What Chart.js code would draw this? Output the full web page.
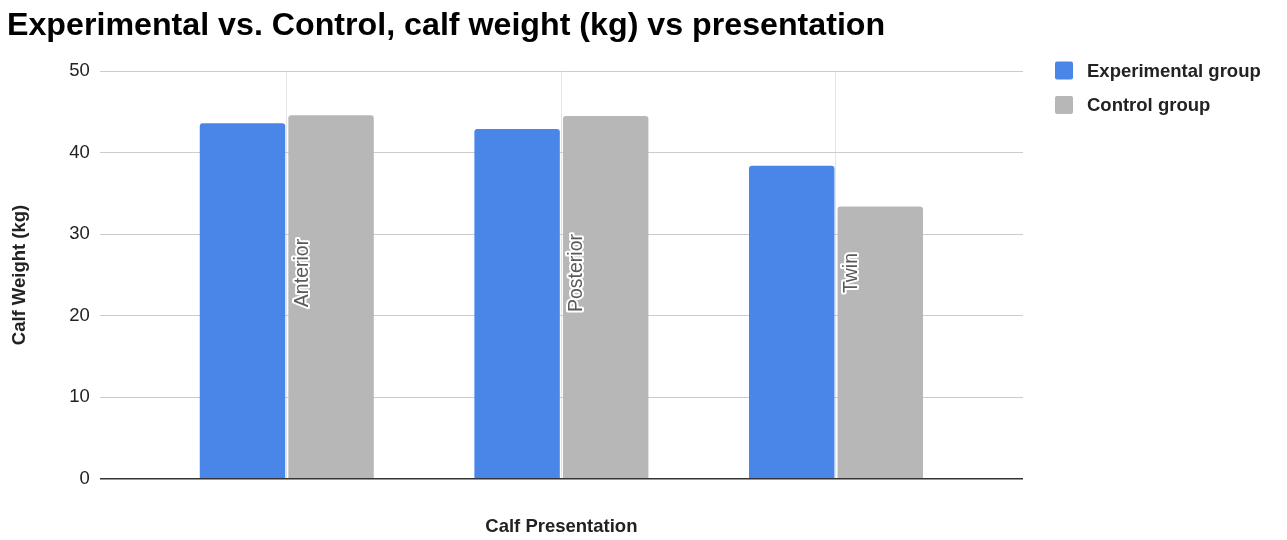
<!DOCTYPE html>
<html>
<head>
<meta charset="utf-8">
<script src="https://cdn.jsdelivr.net/npm/chart.js@4.4.0/dist/chart.umd.min.js"></script>
<style>
html,body{margin:0;padding:0;background:#fff;}
#wrap{width:1287px;height:540px;position:relative;}
</style>
</head>
<body>
<div id="wrap"><canvas id="c"></canvas></div>
<script>
const categories = ['Anterior', 'Posterior', 'Twin'];
const seriesNames = ['Experimental group', 'Control group'];
const experimental = [43.6, 42.9, 38.4];
const control = [44.6, 44.5, 33.4];
const yTickValues = [0, 10, 20, 30, 40, 50];
const chartTitle = 'Experimental vs. Control, calf weight (kg) vs presentation';
const xAxisTitle = 'Calf Presentation';
const yAxisTitle = 'Calf Weight (kg)';

const FONT = '"Liberation Sans", Arial, Helvetica, sans-serif';
Chart.defaults.font.family = FONT;
Chart.defaults.color = '#222';

const catLabelPlugin = {
  id: 'catLabels',
  afterDatasetsDraw(chart) {
    const {ctx, chartArea, scales} = chart;
    const x = scales.x;
    ctx.save();
    ctx.font = '19.5px ' + FONT;
    ctx.textAlign = 'center';
    ctx.textBaseline = 'middle';
    ctx.lineJoin = 'round';
    categories.forEach((c, i) => {
      const px = x.getPixelForValue(i) + 15.5;
      const py = (chartArea.top + chartArea.bottom) / 2 - 2;
      ctx.save();
      ctx.translate(px, py);
      ctx.rotate(-Math.PI / 2);
      ctx.lineWidth = 4;
      ctx.strokeStyle = '#ffffff';
      ctx.strokeText(c, 0, 0);
      ctx.fillStyle = '#5a5a5a';
      ctx.fillText(c, 0, 0);
      ctx.restore();
    });
    ctx.restore();
  }
};

// legend drawn from the chart's own datasets (labels + colours)
const sideLegendPlugin = {
  id: 'sideLegend',
  afterDraw(chart) {
    const {ctx, chartArea} = chart;
    const boxX = chartArea.right + 32;
    const firstY = 70.5;
    const rowGap = 34.5;
    const box = 18;
    ctx.save();
    ctx.font = 'bold 18.5px ' + FONT;
    ctx.textAlign = 'left';
    ctx.textBaseline = 'middle';
    chart.data.datasets.forEach((ds, i) => {
      const cy = firstY + i * rowGap;
      ctx.fillStyle = ds.backgroundColor;
      ctx.beginPath();
      ctx.roundRect(boxX, cy - box / 2, box, box, 2);
      ctx.fill();
      ctx.fillStyle = '#222';
      ctx.fillText(ds.label, boxX + 32, cy + 1);
    });
    ctx.restore();
  }
};

new Chart(document.getElementById('c'), {
  type: 'bar',
  data: {
    datasets: [
      {
        label: seriesNames[0],
        data: categories.map((c, i) => ({x: i, y: experimental[i]})),
        backgroundColor: '#4a86e8',
        borderWidth: 0,
        borderRadius: 3,
        borderSkipped: 'start'
      },
      {
        label: seriesNames[1],
        data: categories.map((c, i) => ({x: i, y: control[i]})),
        backgroundColor: '#b7b7b7',
        borderWidth: 0,
        borderRadius: 3,
        borderSkipped: 'start'
      }
    ]
  },
  options: {
    responsive: true,
    maintainAspectRatio: false,
    animation: false,
    categoryPercentage: 0.645,
    barPercentage: 0.965,
    layout: {padding: {left: 7, right: 264, top: 0, bottom: 0}},
    plugins: {
      title: {
        display: true,
        text: chartTitle,
        align: 'start',
        color: '#000',
        font: {size: 32.2, weight: 'bold', lineHeight: 1},
        padding: {top: 10, bottom: 29}
      },
      legend: {display: false},
      tooltip: {enabled: false}
    },
    scales: {
      x: {
        type: 'linear',
        min: -0.681,
        max: 2.681,
        offset: false,
        afterBuildTicks: (scale) => { scale.ticks = categories.map((c, i) => ({value: i})); },
        grid: {display: true, offset: false, color: '#e4e4e4', drawTicks: false},
        border: {display: false},
        ticks: {display: false},
        title: {
          display: true,
          text: xAxisTitle,
          color: '#222',
          font: {size: 18.5, weight: 'bold'},
          padding: {top: 37, bottom: 2}
        }
      },
      y: {
        min: 0,
        max: 50,
        afterBuildTicks: (scale) => { scale.ticks = yTickValues.map(v => ({value: v})); },
        ticks: {font: {size: 18.5}, color: '#222', padding: 10},
        grid: {
          drawTicks: false,
          color: (ctx) => (ctx.tick && ctx.tick.value === 0) ? '#333333' : '#cccccc',
          lineWidth: (ctx) => (ctx.tick && ctx.tick.value === 0) ? 1.4 : 1
        },
        border: {display: false},
        title: {
          display: true,
          text: yAxisTitle,
          color: '#222',
          font: {size: 18.5, weight: 'bold'},
          padding: {top: 2, bottom: 28}
        }
      }
    }
  },
  plugins: [catLabelPlugin, sideLegendPlugin]
});
</script>
</body>
</html>
